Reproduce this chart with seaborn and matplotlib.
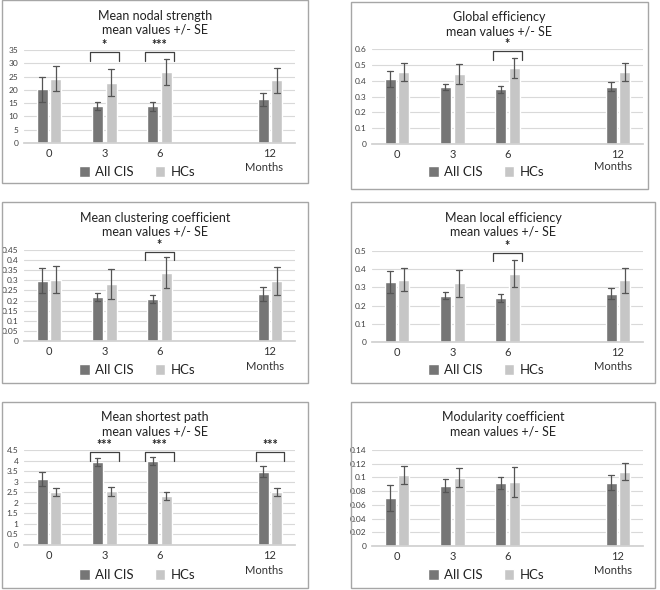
import numpy as np
import pandas as pd
import matplotlib
matplotlib.use('Agg')
from matplotlib import pyplot as plt
import seaborn as sns

# %%
# data (mean and SE per time point)
months = [0, 3, 6, 12]
groups = ['All CIS', 'HCs']

nodal_cis = [20.2, 13.9, 13.75, 16.5]
nodal_cis_se = [4.75, 1.5, 1.55, 2.5]
nodal_hc = [24.2, 22.7, 26.9, 23.6]
nodal_hc_se = [4.75, 5.0, 4.9, 4.75]

glob_cis = [0.41, 0.36, 0.345, 0.362]
glob_cis_se = [0.048, 0.02, 0.022, 0.027]
glob_hc = [0.455, 0.44, 0.482, 0.455]
glob_hc_se = [0.058, 0.063, 0.062, 0.058]

clust_cis = [0.299, 0.216, 0.206, 0.232]
clust_cis_se = [0.064, 0.019, 0.02, 0.033]
clust_hc = [0.304, 0.282, 0.338, 0.297]
clust_hc_se = [0.068, 0.075, 0.078, 0.069]

loc_cis = [0.33, 0.254, 0.243, 0.266]
loc_cis_se = [0.062, 0.019, 0.021, 0.031]
loc_hc = [0.343, 0.323, 0.376, 0.338]
loc_hc_se = [0.065, 0.074, 0.072, 0.068]

path_cis = [3.13, 3.93, 3.99, 3.47]
path_cis_se = [0.34, 0.19, 0.19, 0.25]
path_hc = [2.49, 2.54, 2.32, 2.51]
path_hc_se = [0.19, 0.2, 0.18, 0.18]

mod_cis = [0.070, 0.088, 0.0914, 0.0924]
mod_cis_se = [0.019, 0.009, 0.009, 0.011]
mod_hc = [0.1036, 0.0997, 0.0934, 0.108]
mod_hc_se = [0.0126, 0.014, 0.0215, 0.0124]

titles = ['Mean nodal strength', 'Global efficiency', 'Mean clustering coefficient',
          'Mean local efficiency', 'Mean shortest path', 'Modularity coefficient']
y_max = [35, 0.6, 0.45, 0.5, 4.5, 0.14]
y_step = [5, 0.1, 0.05, 0.1, 0.5, 0.02]
signif = [[(3, '*'), (6, '***')], [(6, '*')], [(6, '*')], [(6, '*')],
          [(3, '***'), (6, '***'), (12, '***')], []]

series = [(nodal_cis, nodal_cis_se, nodal_hc, nodal_hc_se),
          (glob_cis, glob_cis_se, glob_hc, glob_hc_se),
          (clust_cis, clust_cis_se, clust_hc, clust_hc_se),
          (loc_cis, loc_cis_se, loc_hc, loc_hc_se),
          (path_cis, path_cis_se, path_hc, path_hc_se),
          (mod_cis, mod_cis_se, mod_hc, mod_hc_se)]

# %%
# layout in pixels (660 x 590)
W, H = 660, 590
boxes = [(2, 0, 308, 183), (351, 2, 648, 189),
         (2, 202, 308, 383), (351, 202, 655, 383),
         (2, 402, 308, 588), (351, 402, 655, 588)]
plot_x = [(24, 295), (372, 643)] * 3
plot_y = [(50, 143), (49, 144), (250, 341), (251, 342), (450, 545), (450, 546)]
title_y = [23, 24, 225, 225, 424, 424]
legend_pos = [(137, 172), (486, 172), (137, 370), (486, 370), (137, 575), (486, 575)]
months_pos = [(264, 167), (613, 167), (265, 367), (613, 367), (264, 570), (613, 570)]

dark, light = '#767676', '#c6c6c6'


def fx(px):
    return px / W


def fy(py):
    return 1 - py / H


sns.set_theme(style='white')
plt.rcParams['font.family'] = ['Lato', 'DejaVu Sans']

fig = plt.figure(figsize=(6.6, 5.9), dpi=100)

for i in range(6):
    cis, cis_se, hc, hc_se = series[i]
    # two rows per bar (mean -/+ SE) so seaborn draws mean and interval itself
    rows = []
    for g, vals, ses in [(groups[0], cis, cis_se), (groups[1], hc, hc_se)]:
        for m, v, s in zip(months, vals, ses):
            rows.append((m, g, v - s))
            rows.append((m, g, v + s))
    df = pd.DataFrame(rows, columns=['month', 'group', 'value'])

    left, right = plot_x[i]
    top, bottom = plot_y[i]
    ax = fig.add_axes([fx(left), fy(bottom), (right - left) / W, (bottom - top) / H])
    sns.barplot(data=df, x='month', y='value', hue='group', hue_order=groups,
                palette=[dark, light], native_scale=True, width=0.5, gap=0.2,
                errorbar=lambda v: (v.min(), v.max()), capsize=0.2,
                err_kws={'color': '#555555', 'linewidth': 0.9}, ax=ax)

    ymax, step = y_max[i], y_step[i]
    ax.set_xlim(-1.36, 13.36)
    ax.set_ylim(0, ymax)
    ticks = np.round(np.arange(0, ymax + step / 2, step), 3)
    ax.set_yticks(ticks)
    ax.set_yticklabels([f'{t:g}' for t in ticks])
    ax.set_xticks(months)
    ax.set_xticklabels([str(m) for m in months])
    ax.tick_params(axis='y', length=0, labelsize=6, colors='#404040', pad=4)
    ax.tick_params(axis='x', length=0, labelsize=8, colors='#333333', pad=3.5)
    ax.yaxis.grid(True, color='#d9d9d9', linewidth=0.8)
    ax.set_axisbelow(True)
    for s in ['top', 'right', 'left']:
        ax.spines[s].set_visible(False)
    ax.spines['bottom'].set_color('#d0d0d0')
    ax.set_ylabel('')

    ax.set_xlabel('Months', fontsize=8, color='#333333')
    mx, my = months_pos[i]
    ax.xaxis.set_label_coords((mx - left) / (right - left), (bottom - my) / (bottom - top))
    ax.xaxis.label.set_va('center')

    # significance brackets
    for m, lab in signif[i]:
        xl, xr = m - 0.78, m + 0.78
        ax.plot([xl, xl, xr, xr], [0.885 * ymax, 0.98 * ymax, 0.98 * ymax, 0.885 * ymax],
                color='#404040', linewidth=0.9, clip_on=False)
        ax.text(m, 1.055 * ymax, lab, ha='center', va='center', fontsize=9,
                color='#222222', fontweight='bold', clip_on=False)

    lx, ly = legend_pos[i]
    sns.move_legend(ax, 'center', bbox_to_anchor=(fx(lx), fy(ly)),
                    bbox_transform=fig.transFigure, ncol=2, frameon=False, title=None,
                    fontsize=9.5, handlelength=0.8, handleheight=0.9,
                    columnspacing=1.6, handletextpad=0.4)
    for t in ax.get_legend().get_texts():
        t.set_color('#222222')

    x0, y0, x1, y1 = boxes[i]
    fig.add_artist(plt.Rectangle((fx(x0), fy(y1)), (x1 - x0) / W, (y1 - y0) / H,
                                 transform=fig.transFigure, fill=False,
                                 edgecolor='#a6a6a6', linewidth=1))
    fig.text(fx((x0 + x1) / 2), fy(title_y[i]), f'{titles[i]}\nmean values +/- SE',
             ha='center', va='center', fontsize=9, linespacing=1.2, color='#222222')

fig.savefig('out.png', dpi=100)
